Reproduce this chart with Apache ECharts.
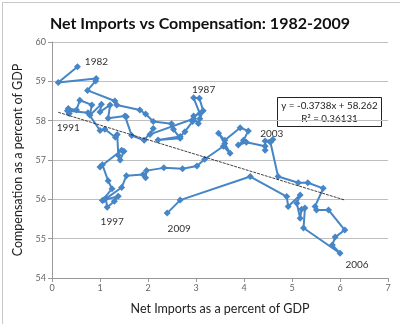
<!DOCTYPE html>
<html><head><meta charset="utf-8">
<script src="https://cdn.jsdelivr.net/npm/echarts@6/dist/echarts.min.js"></script>
<style>html,body{margin:0;padding:0;background:#fff}#c{width:400px;height:324px}</style>
</head><body><div id="c"></div>
<script>
// Net imports (% of GDP), quarterly path 1982 -> 2009
const netImports = [
  0.53,0.13,0.92,0.91, 0.74,1.31,1.35,1.83, 1.95,2.11,2.49,2.53, 2.67,2.21,2.67,2.77,
  2.93,2.95,3.08,2.95, 3.07,3.15,3.08,3.05, 2.95,2.04,2.11,1.92, 1.66,1.52,1.55,1.17,
  1.21,1.00,1.03,0.79, 0.83,0.58,0.51,0.34, 0.36,0.32,0.75,1.00, 1.10,1.32,1.36,1.38,
  1.42,1.50,1.45,1.00, 1.05,1.17,1.25,1.05, 1.12,1.15,1.30,1.38, 1.08,1.45,1.55,1.90,
  1.95,1.97,2.33,2.72, 3.02,3.18,3.57,3.71, 3.60,3.47,3.60,3.92, 4.09,3.99,3.88,4.05,
  4.44,4.44,4.44,4.60, 4.55,4.71,5.13,5.33, 5.65,5.48,5.51,5.76, 6.10,5.90,5.84,6.00,
  5.24,5.27,5.20,5.17, 5.10,5.17,4.92,4.89, 4.13,2.67,2.40
];
// Compensation (% of GDP)
const compensation = [
  59.37,58.97,59.07,59.01, 58.77,58.50,58.40,58.27, 58.17,57.98,57.92,57.78, 57.55,57.51,57.60,57.72,
  57.98,58.12,58.18,58.58, 58.57,58.25,58.05,57.93, 58.05,57.65,57.80,57.50, 57.62,58.12,58.10,58.06,
  58.40,58.22,58.42,58.14, 58.40,58.52,58.27,58.31, 58.18,58.25,58.20,57.75, 57.78,57.58,57.65,57.12,
  57.00,57.22,57.25,56.82, 56.88,56.47,56.27,55.97, 56.02,55.80,55.95,56.08, 55.98,56.30,56.60,56.63,
  56.55,56.73,56.80,56.78, 56.85,57.02,57.35,57.17, 57.42,57.68,57.50,57.82, 57.74,57.50,57.38,57.45,
  57.35,57.25,57.48,57.52, 57.45,56.58,56.42,56.42, 56.28,55.82,55.73,55.73, 55.22,55.04,54.84,54.63,
  55.27,55.78,55.75,55.52, 55.90,56.11,55.82,56.07, 56.58,55.98,55.65
];
// Year annotations: [label, index of point]
const yearLabels = [["1982",0],["1987",19],["1991",40],["1997",57],["2003",83],["2006",95],["2009",106]];
const labelOffsets = {"1982":[19,-5],"1987":[10,-8],"1991":[-1,14],"1997":[5,15],"2003":[-1,-6],"2006":[17,12],"2009":[12,16]};
const xTicks = [0,1,2,3,4,5,6,7];
const yTicks = [54,55,56,57,58,59,60];
const trendSlope = -0.3738, trendIntercept = 58.262, rSquared = 0.36131;
const trendRange = [0.13, 6.1];

const labelIdx = {};
yearLabels.forEach(([t,i]) => labelIdx[i] = t);
const pathData = netImports.map((x,i) => {
  const item = {value:[x, compensation[i]]};
  if (labelIdx[i] !== undefined) {
    const t = labelIdx[i];
    item.label = {show:true, formatter:t, position:'inside', offset:labelOffsets[t],
      color:'#333', fontSize:10, fontFamily:'Lato'};
  }
  return item;
});
const trendData = trendRange.map(x => [x, trendSlope*x + trendIntercept]);

const chart = echarts.init(document.getElementById('c'), null, {renderer:'canvas'});
chart.setOption({
  animation:false,
  backgroundColor:'#fff',
  title:{text:'Net Imports vs Compensation: 1982-2009', left:'center', top:11,
    textStyle:{fontFamily:'Lato', fontWeight:'bold', fontSize:16, color:'#111'}},
  grid:{left:52, right:12, top:42, bottom:46},
  xAxis:{type:'value', min:xTicks[0], max:xTicks[xTicks.length-1], interval:1,
    name:'Net Imports as a percent of GDP', nameLocation:'middle', nameGap:24,
    nameTextStyle:{fontFamily:'Lato', fontSize:12.5, color:'#222'},
    axisLine:{show:true, lineStyle:{color:'#999'}},
    axisTick:{show:true, length:4, lineStyle:{color:'#999'}},
    axisLabel:{fontFamily:'Lato', fontSize:9, color:'#666', margin:6},
    splitLine:{show:false}},
  yAxis:{type:'value', min:yTicks[0], max:yTicks[yTicks.length-1], interval:1,
    name:'Compensation as a percent of GDP', nameLocation:'middle', nameGap:26,
    nameTextStyle:{fontFamily:'Lato', fontSize:12.5, color:'#222'},
    axisLine:{show:true, lineStyle:{color:'#999'}},
    axisTick:{show:true, length:4, lineStyle:{color:'#999'}},
    axisLabel:{fontFamily:'Lato', fontSize:9, color:'#666', margin:6},
    splitLine:{show:true, lineStyle:{color:'#bfbfbf', width:1}}},
  series:[
    {type:'line', data:trendData, symbol:'none', silent:true, z:3,
      lineStyle:{color:'#111', width:0.8, type:[3,1]}},
    {type:'line', data:pathData, symbol:'diamond', symbolSize:7, z:2,
      itemStyle:{color:'#4685c6'}, lineStyle:{color:'#4685c6', width:2}}
  ],
  graphic:[
    {type:'rect', left:0, top:0, shape:{x:0.5,y:0.5,width:399,height:323},
      style:{fill:'none', stroke:'#c8c8c8', lineWidth:1}, silent:true},
    {type:'group', left:277, top:97, z:10, children:[
      {type:'rect', shape:{x:0.5,y:0.5,width:104,height:29}, style:{fill:'#fff', stroke:'#222', lineWidth:1}},
      {type:'text', x:52.5, y:9, style:{text:'y = ' + trendSlope + 'x + ' + trendIntercept, align:'center', verticalAlign:'middle',
        font:'9.8px Lato', fill:'#222'}},
      {type:'text', x:52.5, y:21.5, style:{text:'R\u00b2 = ' + rSquared, align:'center', verticalAlign:'middle',
        font:'9.8px Lato', fill:'#222'}}
    ]}
  ]
});
</script></body></html>
